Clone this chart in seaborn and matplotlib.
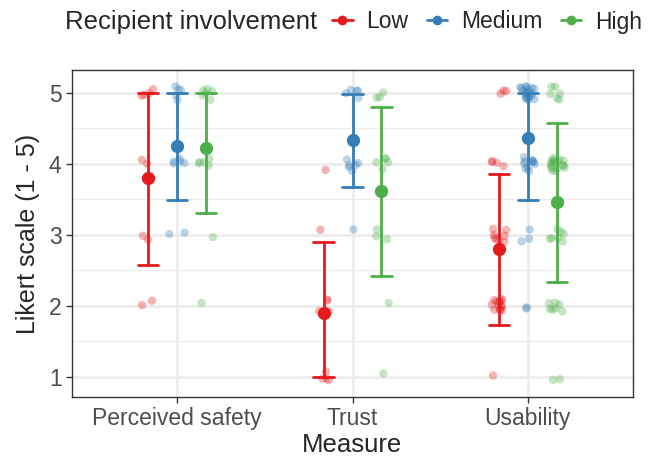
import numpy as np
import pandas as pd
import matplotlib
matplotlib.use("Agg")
import matplotlib.pyplot as plt
import seaborn as sns
from matplotlib.lines import Line2D

# ratings (1-5 Likert), one list per measure x involvement
measures = ["Perceived safety", "Trust", "Usability"]
levels = ["Low", "Medium", "High"]

ps_low = [5, 5, 5, 5, 4, 4, 3, 3, 2, 2]
ps_medium = [5, 5, 5, 5, 5, 4, 4, 4, 4, 4, 3, 3]
ps_high = [5, 5, 5, 5, 5, 5, 4, 4, 4, 4, 4, 3, 2]

trust_low = [4, 3, 2, 2, 2, 2, 1, 1, 1, 1]
trust_medium = [5, 5, 5, 5, 5, 4, 4, 4, 4, 4, 4, 3]
trust_high = [5, 5, 5, 4, 4, 4, 4, 4, 3, 3, 3, 2, 1]

usab_low = [5, 5, 5, 4, 4, 4, 4, 3, 3, 3, 3, 3, 3, 3, 3,
            2, 2, 2, 2, 2, 2, 2, 2, 2, 2, 2, 2, 2, 2, 1]
usab_medium = [5, 5, 5, 5, 5, 5, 5, 5, 5, 5, 5, 5, 5, 5, 5, 5, 5, 5, 5, 5,
               4, 4, 4, 4, 4, 4, 4, 4, 4, 4, 4, 3, 3, 3, 2, 2]
usab_high = [5, 5, 5, 5, 5, 5,
             4, 4, 4, 4, 4, 4, 4, 4, 4, 4, 4, 4, 4, 4, 4, 4, 4,
             3, 3, 3, 3, 3, 3, 3, 2, 2, 2, 2, 2, 2, 2, 1, 1]

ratings = {
    ("Perceived safety", "Low"): ps_low,
    ("Perceived safety", "Medium"): ps_medium,
    ("Perceived safety", "High"): ps_high,
    ("Trust", "Low"): trust_low,
    ("Trust", "Medium"): trust_medium,
    ("Trust", "High"): trust_high,
    ("Usability", "Low"): usab_low,
    ("Usability", "Medium"): usab_medium,
    ("Usability", "High"): usab_high,
}

palette = {"Low": "#E41A1C", "Medium": "#377EB8", "High": "#4DAF4A"}
dodge_off = {"Low": -0.165, "Medium": 0.0, "High": 0.165}

rows = []
for (m, g), vals in ratings.items():
    for v in vals:
        rows.append({"measure": m, "group": g, "rating": v})
df = pd.DataFrame(rows)

# jitter for the raw points (like position_jitterdodge)
rng = np.random.default_rng(3)
df["xj"] = (df["measure"].map({m: i for i, m in enumerate(measures)})
            + df["group"].map(dodge_off)
            + rng.uniform(-0.045, 0.045, len(df)))
df["yj"] = df["rating"] + rng.uniform(-0.1, 0.1, len(df))


def sd_clip(v):
    m = np.mean(v)
    s = np.std(v, ddof=1)
    return max(m - s, 1), min(m + s, 5)


sns.set_style("ticks")
plt.rcParams["font.family"] = ["Liberation Sans", "DejaVu Sans"]

fig = plt.figure(figsize=(6.54, 4.61), dpi=100)
ax = fig.add_axes([72 / 654, 1 - 397 / 461, (633 - 72) / 654, (397 - 70) / 461])

sns.scatterplot(data=df, x="xj", y="yj", hue="group", hue_order=levels,
                palette=palette, s=36, alpha=0.33, edgecolor="none",
                legend=False, ax=ax, zorder=2)

sns.pointplot(data=df, x="measure", y="rating", hue="group", order=measures,
              hue_order=levels, palette=palette, dodge=0.33, errorbar=sd_clip,
              capsize=0.115, linestyle="none", markersize=7.5,
              err_kws={"linewidth": 2}, legend=False, ax=ax)

ax.set_xlim(-0.6, 2.6)
ax.set_ylim(0.718, 5.324)
ax.set_xticks(range(3))
ax.set_xticklabels(measures)
ax.set_yticks([1, 2, 3, 4, 5])
ax.set_yticks([1.5, 2.5, 3.5, 4.5], minor=True)
ax.set_axisbelow(True)
ax.grid(which="major", color="#EBEBEB", linewidth=1.8)
ax.yaxis.grid(which="minor", color="#EBEBEB", linewidth=0.9)
ax.tick_params(which="major", length=4, width=1, color="#333333",
               labelcolor="#4D4D4D", labelsize=16.5)
ax.tick_params(which="minor", length=0)
for sp in ax.spines.values():
    sp.set_color("#333333")
    sp.set_linewidth(1)

ax.set_xlabel("Measure", fontsize=18.5, labelpad=2)
ax.set_ylabel("Likert scale (1 - 5)", fontsize=18, labelpad=6)

fig.text(65 / 654, 1 - 22 / 461, "Recipient involvement", fontsize=18.5,
         va="center", ha="left")
handles = [Line2D([0], [0], color=palette[g], marker="o", markersize=6,
                  linewidth=2) for g in levels]
fig.legend(handles, levels, ncol=3, loc="center left",
           bbox_to_anchor=(332 / 654, 1 - 22 / 461), frameon=False,
           fontsize=16.5, handlelength=0.9, handletextpad=0.6,
           columnspacing=0.8, borderpad=0, borderaxespad=0)

fig.savefig("out.png", dpi=100)
